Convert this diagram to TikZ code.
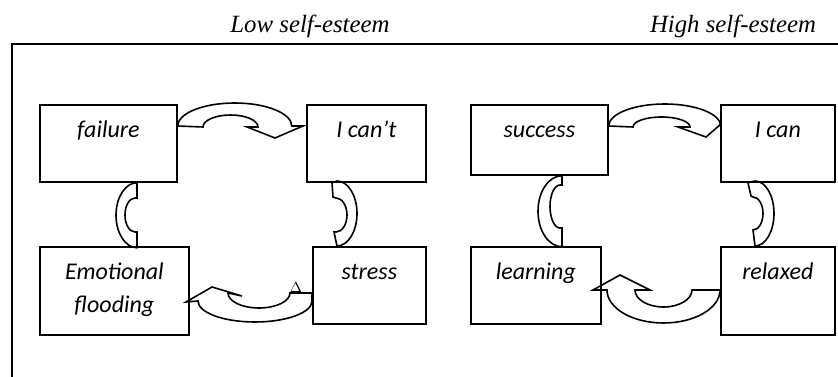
\documentclass[tikz,border=0pt]{standalone}
\usepackage{fontspec}
\newfontfamily\stagefont{Carlito}
\newfontfamily\headfont{Liberation Serif}
\begin{document}
\begin{tikzpicture}[x=0.75pt, y=-0.75pt,
    stage/.style={draw, line width=1.3pt, inner sep=0pt, anchor=north west},
    stagetext/.style={anchor=base, inner sep=0pt, font=\stagefont\itshape\fontsize{18}{24}\selectfont},
    heading/.style={anchor=base, inner sep=0pt, font=\headfont\itshape\fontsize{18.6}{22}\selectfont},
    loop/.style={draw, line width=1.2pt, line join=miter}]
\useasboundingbox (0,0) rectangle (838,377);

% Frame and headings
\draw[line width=1.3pt] (838,44) -- (12,44) -- (12,377);
\node[heading] (lowhead) at (310,33) {Low self-esteem};
\node[heading] (highhead) at (733,33) {High self-esteem};

% Low self-esteem cycle
\node[stage, minimum width=102.75pt, minimum height=57.75pt] (fail) at (39,104) {};
\node[stage, minimum width=89.25pt, minimum height=57.75pt] (cant) at (306,104) {};
\node[stage, minimum width=111.75pt, minimum height=66pt] (emo) at (39,246) {};
\node[stage, minimum width=84.75pt, minimum height=57.75pt] (stress) at (312,246) {};
\node[stagetext] (failtext) at (fail.north |- 0,138) {failure};
\node[stagetext] (canttext) at (cant.north |- 0,138) {I can’t};
\node[stagetext] (emotext) at (emo.north |- 0,280) {Emotional};
\node[stagetext] (floodtext) at (emo.north |- 0,313) {flooding};
\node[stagetext] (stresstext) at (stress.north |- 0,280) {stress};

% High self-esteem cycle
\node[stage, minimum width=102.75pt, minimum height=52.5pt] (succ) at (470,104) {};
\node[stage, minimum width=85.5pt, minimum height=57.75pt] (can) at (720,104) {};
\node[stage, minimum width=97.5pt, minimum height=57.75pt] (learn) at (470,246) {};
\node[stage, minimum width=85.5pt, minimum height=66pt] (relax) at (720,246) {};
\node[stagetext] (succtext) at (succ.north |- 0,138) {success};
\node[stagetext] (cantext) at (can.north |- 0,138) {I can};
\node[stagetext] (learntext) at (learn.north |- 0,280) {learning};
\node[stagetext] (relaxtext) at (relax.north |- 0,280) {relaxed};

% failure -> I can't
\draw[loop] (fail.east |- 0,126) arc[start angle=180, end angle=360, x radius=57, y radius=23]
    -- (303,126) -- (275,138) -- (247,127) -- (258,127)
    arc[start angle=0, end angle=-180, x radius=27.5, y radius=12] -- cycle;
% I can't -> stress
\draw[loop] (332,0 |- cant.south) -- (333,197) -- (336,198)
    arc[start angle=-90, end angle=90, x radius=11, y radius=17] -- (334,232) -- (337,246)
    arc[start angle=90, end angle=-90, x radius=20, y radius=32.5] -- cycle;
% stress -> Emotional flooding
\draw[loop] (stress.west |- 0,293) -- (290,293)
    arc[start angle=0, end angle=180, x radius=31, y radius=15]
    -- (242,296) -- (212,287) -- (186,302) -- (198,301)
    arc[start angle=180, end angle=0, x radius=57, y radius=21] -- cycle;
\node[anchor=base, inner sep=0pt, font=\fontsize{11}{13}\selectfont] (delta) at (296,293) {$\Delta$};
% Emotional flooding -> failure
\draw[loop] (137,0 |- fail.south) arc[start angle=270, end angle=90, x radius=21, y radius=32.5]
    -- (137,232) -- (135,232)
    arc[start angle=90, end angle=270, x radius=10, y radius=17] -- (137,198) -- cycle;

% success -> I can
\draw[loop] (succ.east |- 0,126) arc[start angle=180, end angle=360, x radius=56, y radius=22]
    -- (721,124) -- (706,137) -- (678,127) -- (690,127)
    arc[start angle=0, end angle=-180, x radius=28.5, y radius=10] -- cycle;
% I can -> relaxed
\draw[loop] (748,0 |- can.south) -- (751,196) -- (753,197)
    arc[start angle=-90, end angle=90, x radius=10, y radius=16.5] -- (755,246)
    arc[start angle=90, end angle=-90, x radius=19, y radius=32.5] -- cycle;
% relaxed -> learning
\draw[loop] (relax.west |- 0,290) -- (692,290)
    arc[start angle=0, end angle=180, x radius=28.5, y radius=17]
    -- (650,290) -- (620,275) -- (593,290) -- (607,290)
    arc[start angle=180, end angle=0, x radius=56.5, y radius=33] -- cycle;
% learning -> success
\draw[loop] (562,0 |- succ.south) arc[start angle=270, end angle=90, x radius=24, y radius=35.5]
    -- (562,228) -- (560,228)
    arc[start angle=90, end angle=270, x radius=10, y radius=21.5] -- (562,185) -- cycle;
\end{tikzpicture}
\end{document}
